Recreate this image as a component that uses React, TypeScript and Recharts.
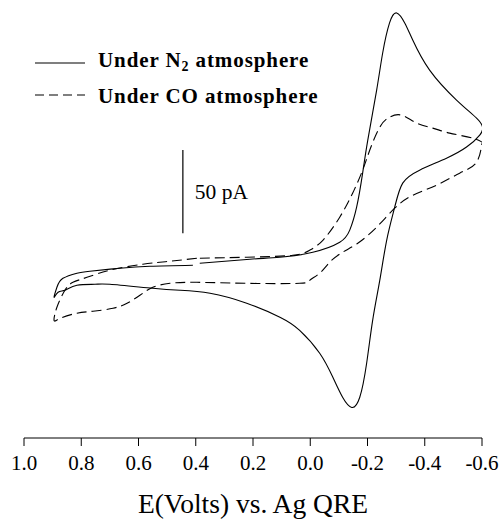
import React from 'react';
import { LineChart, Line, XAxis, YAxis, Legend, ReferenceLine, Label } from 'recharts';

// potential (V vs Ag QRE) and current (pA), read along the scan direction
const n2Potential = [
  0.41, 0.56, 0.665, 0.77, 0.815, 0.864, 0.885, 0.895,
  0.881, 0.857, 0.815, 0.752, 0.7, 0.55, 0.455, 0.35, 0.222, 0.106, 0.037,
  -0.033, -0.079, -0.113, -0.145, -0.173, -0.197, -0.218, -0.243, -0.267,
  -0.295, -0.323, -0.382, -0.476, -0.546, -0.592, -0.602,
  -0.581, -0.511, -0.417, -0.358, -0.33, -0.302, -0.277, -0.253, -0.232,
  -0.201, -0.183, -0.162, -0.138, -0.103, -0.009, 0.106, 0.211, 0.386,
];
const n2Current = [
  14.0, 13.4, 12.2, 10.4, 9.2, 6.1, 0.7, -5.3,
  -2.3, -1.1, 1.9, 2.5, 2.5, 0.1, -1.1, -2.9, -8.9, -17.3, -25.2,
  -39, -53.5, -65.5, -71.6, -65.5, -45, -19.2, 5, 29,
  48.9, 63.4, 71.2, 78.4, 85.1, 92.3, 97.1,
  102.5, 113.4, 131.4, 149.5, 159.8, 165.8, 159.8, 141.7, 119.4,
  89.3, 69.4, 48.9, 35.1, 27.8, 21.8, 18.8, 17.6, 15.2,
];

const coPotential = [
  0.396, 0.49, 0.585, 0.7, 0.78, 0.829, 0.857, 0.885, 0.895,
  0.874, 0.815, 0.759, 0.689, 0.64, 0.595, 0.55, 0.49, 0.396, 0.222, 0.037,
  0.002, -0.033, -0.068, -0.113, -0.166, -0.232, -0.295, -0.358, -0.442,
  -0.522, -0.581, -0.599, -0.6,
  -0.567, -0.487, -0.428, -0.372, -0.319, -0.277, -0.243, -0.208, -0.183,
  -0.148, -0.103, -0.044, 0.002, 0.061, 0.222, 0.386,
];
const coCurrent = [
  18.2, 16.4, 14.6, 11, 6.7, 3.7, -1.1, -11.3, -19.2,
  -18, -14.9, -13.7, -11.9, -8.9, -4.1, 0.7, 3.1, 3.7, 3.1, 3.1,
  4.9, 9.2, 15.8, 21.8, 27.2, 36.9, 48.3, 56.1, 62.2,
  69.4, 76, 86.3, 88.1,
  90.5, 93.5, 96.5, 99.5, 104.3, 103.1, 97.1, 83.3, 71.2,
  57.3, 42.9, 29, 23, 20, 18.8, 18.2,
];

const xTicks = [1.0, 0.8, 0.6, 0.4, 0.2, 0.0, -0.2, -0.4, -0.6];
const seriesNames = ['Under N', 'Under CO atmosphere'];
const scaleBarPotential = 0.445;
const scaleBarCurrent = [33.3, 83.3];

const n2Data = n2Potential.map((v, i) => ({ v, i: n2Current[i] }));
const coData = coPotential.map((v, i) => ({ v, i: coCurrent[i] }));

const serif = "'Liberation Serif', 'Times New Roman', serif";
const legendText = { fontFamily: serif, fontWeight: 'bold' as const, fontSize: 21, letterSpacing: 0.9 };

const LegendBox = () => (
  <svg width={300} height={70} style={{ overflow: 'visible' }}>
    <line x1={5} y1={18} x2={55} y2={18} stroke="#000" strokeWidth={1.2} />
    <text x={68} y={22} fill="#000" style={legendText}>
      {seriesNames[0]}
      <tspan fontSize={14} dy={4}>2</tspan>
      <tspan dy={-4}> atmosphere</tspan>
    </text>
    <line x1={5} y1={50} x2={55} y2={50} stroke="#000" strokeWidth={1.2} strokeDasharray="9 5" />
    <text x={68} y={58} fill="#000" style={legendText}>
      {seriesNames[1]}
    </text>
  </svg>
);

export default function App() {
  return (
    <div style={{ position: 'absolute', left: 0, top: 0 }}>
      <LineChart width={500} height={520} margin={{ top: 6, right: 18, bottom: 0, left: 24 }}>
        <XAxis
          type="number"
          dataKey="v"
          domain={[-0.6, 1.0]}
          reversed
          allowDataOverflow
          ticks={xTicks}
          tickFormatter={(v: number) => v.toFixed(1)}
          height={82}
          tickSize={8}
          tickMargin={9}
          stroke="#000"
          tick={{ fill: '#000', fontSize: 21, style: { fontFamily: serif } }}
        >
          <Label
            value="E(Volts) vs. Ag QRE"
            position="insideBottom"
            offset={7}
            style={{ fill: '#000', fontSize: 27.5, fontFamily: serif }}
          />
        </XAxis>
        <YAxis type="number" dataKey="i" domain={[-90, 170]} hide allowDataOverflow />
        <Legend
          layout="horizontal"
          verticalAlign="middle"
          align="center"
          wrapperStyle={{ top: 45, left: 30, width: 300, height: 70 }}
          content={() => <LegendBox />}
        />
        <ReferenceLine
          segment={[
            { x: scaleBarPotential, y: scaleBarCurrent[0] },
            { x: scaleBarPotential, y: scaleBarCurrent[1] },
          ]}
          stroke="#000"
          strokeWidth={1.2}
          label={{
            value: '50 pA',
            position: 'right',
            offset: 12,
            fill: '#000',
            fontSize: 21.5,
            style: { fontFamily: serif },
          }}
        />
        <Line
          data={n2Data}
          dataKey="i"
          type="natural"
          stroke="#000"
          strokeWidth={1.1}
          dot={false}
          isAnimationActive={false}
        />
        <Line
          data={coData}
          dataKey="i"
          type="natural"
          stroke="#000"
          strokeWidth={1.1}
          strokeDasharray="10 5"
          dot={false}
          isAnimationActive={false}
        />
      </LineChart>
    </div>
  );
}
